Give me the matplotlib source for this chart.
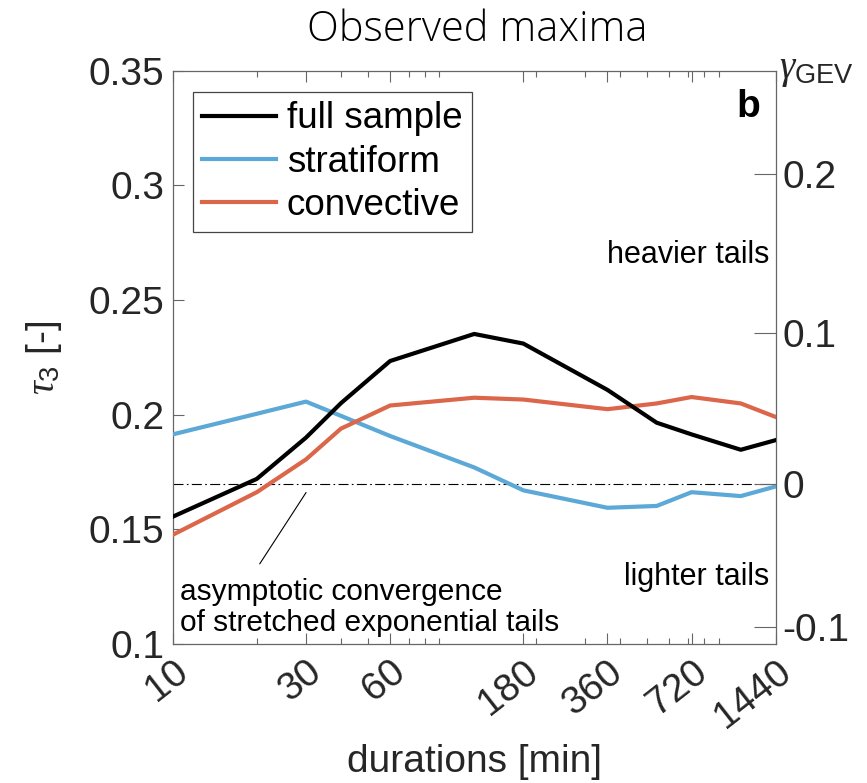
import numpy as np
import matplotlib
matplotlib.use("Agg")
import matplotlib.pyplot as plt
from matplotlib.ticker import FixedLocator, LogLocator, NullFormatter

# ---------------- data ----------------
durations = [10, 20, 30, 40, 60, 120, 180, 360, 540, 720, 1080, 1440]
full_sample = [0.1555, 0.172, 0.190, 0.205, 0.2234, 0.2352, 0.231, 0.2108, 0.1965, 0.1914, 0.1847, 0.1889]
stratiform = [0.1914, 0.2004, 0.2057, 0.1995, 0.1907, 0.177, 0.167, 0.1594, 0.1602, 0.1662, 0.1645, 0.1687]
convective = [0.1476, 0.1662, 0.1805, 0.1939, 0.204, 0.2074, 0.2066, 0.2024, 0.2049, 0.2077, 0.2049, 0.199]
series_labels = ["full sample", "stratiform", "convective"]
xtick_values = [10, 30, 60, 180, 360, 720, 1440]
ytick_values = [0.1, 0.15, 0.2, 0.25, 0.3, 0.35]
ytick_labels = ["0.1", "0.15", "0.2", "0.25", "0.3", "0.35"]
gamma_ticks = [-0.1, 0.0, 0.1, 0.2]
gamma_labels = ["-0.1", "0", "0.1", "0.2"]


def tau3_from_gamma(g):
    # L-skewness of the GEV distribution (Hosking), shape k = -gamma
    k = -np.asarray(g, dtype=float)
    small = np.abs(k) < 1e-9
    kk = np.where(small, 1.0, k)
    out = 2 * (1 - 3.0 ** (-kk)) / (1 - 2.0 ** (-kk)) - 3
    out = np.where(small, 2 * np.log(3) / np.log(2) - 3, out)
    return out


plt.rcParams["font.family"] = ["Liberation Sans", "DejaVu Sans"]
plt.rcParams["mathtext.fontset"] = "custom"
plt.rcParams["mathtext.rm"] = "Liberation Sans"
plt.rcParams["mathtext.it"] = "Liberation Serif:italic"

W, H = 867, 783
fig = plt.figure(figsize=(W / 100, H / 100), dpi=100)
ax_left, ax_top, ax_right, ax_bot = 172.7, 70.7, 775.7, 644.0
ax = fig.add_axes([ax_left / W, 1 - ax_bot / H, (ax_right - ax_left) / W, (ax_bot - ax_top) / H])

text_col = "#262626"
spine_col = "#666666"

c_black = "black"
c_blue = (0.36, 0.66, 0.84)
c_orange = (0.86, 0.40, 0.29)

ax.plot(durations, full_sample, color=c_black, lw=3.0, label=series_labels[0], zorder=4)
ax.plot(durations, stratiform, color=c_blue, lw=3.0, label=series_labels[1], zorder=3)
ax.plot(durations, convective, color=c_orange, lw=3.0, label=series_labels[2], zorder=3)

ax.axhline(float(tau3_from_gamma(0.0)), color="black", lw=0.8, dashes=(9, 3, 1.5, 3), zorder=2)

ax.set_xscale("log")
ax.set_xlim(10, 1440)
ax.set_ylim(0.1, 0.35)

ax.xaxis.set_major_locator(FixedLocator(xtick_values))
ax.set_xticklabels([str(v) for v in xtick_values])
ax.xaxis.set_minor_locator(LogLocator(base=10, subs=np.arange(2, 10)))
ax.xaxis.set_minor_formatter(NullFormatter())
ax.set_yticks(ytick_values)
ax.set_yticklabels(ytick_labels)

ax.tick_params(axis="both", which="both", direction="in", top=True, right=True,
               colors=spine_col, labelcolor=text_col, width=0.8)
ax.tick_params(axis="y", which="major", length=8, labelsize=28, pad=6)
ax.tick_params(axis="x", which="major", length=8, labelsize=28, pad=7)
ax.tick_params(axis="x", which="minor", length=4)
for lab in ax.get_xticklabels():
    lab.set_rotation(38)
    lab.set_ha("right")
    lab.set_va("top")
    lab.set_rotation_mode("anchor")

for sp in ax.spines.values():
    sp.set_color(spine_col)
    sp.set_linewidth(0.9)

ax.set_xlabel("durations [min]", fontsize=28, color=text_col, labelpad=6)
ax.set_ylabel(r"$\tau_3$ [-]", fontsize=28, color=text_col, labelpad=18)

# right axis: GEV shape parameter
ax2 = ax.twinx()
ax2.set_ylim(ax.get_ylim())
ax2.set_yticks(tau3_from_gamma(gamma_ticks))
ax2.set_yticklabels(gamma_labels)
ax2.tick_params(axis="y", direction="in", length=16, width=0.8, colors=spine_col,
                labelcolor=text_col, labelsize=28, pad=5)
for sp in ax2.spines.values():
    sp.set_visible(False)
ax2.text(1.005, 1.0, r"$\gamma_{\mathrm{GEV}}$", transform=ax.transAxes, fontsize=28,
         color=text_col, ha="left", va="center")

leg = ax.legend(loc="upper left", bbox_to_anchor=(0.033, 0.963), borderaxespad=0,
                fontsize=26.5, frameon=True, fancybox=False, framealpha=1,
                edgecolor="#444444", handlelength=2.0, handletextpad=0.3,
                labelspacing=0.22, borderpad=0.26)
leg.get_frame().set_linewidth(0.9)
for t in leg.get_texts():
    t.set_color("black")

ax.text(0.975, 0.937, "b", transform=ax.transAxes, fontsize=28, fontweight="bold",
        ha="right", va="center", color="black")
ax.text(0.99, 0.678, "heavier tails", transform=ax.transAxes, fontsize=22,
        ha="right", va="center", color="black")
ax.text(0.99, 0.117, "lighter tails", transform=ax.transAxes, fontsize=22,
        ha="right", va="center", color="black")
ax.text(0.012, 0.012, "asymptotic convergence\nof stretched exponential tails",
        transform=ax.transAxes, fontsize=21.5, ha="left", va="bottom",
        linespacing=1.12, color="black")
ax.plot([30, 20.5], [0.166, 0.135], color="black", lw=0.8, zorder=2)

fig.text(477 / W, 1 - 30 / H, "Observed maxima", fontsize=30, family="Open Sans",
         fontweight="light", ha="center", va="center", color="black")

fig.savefig("out.png", dpi=100)
